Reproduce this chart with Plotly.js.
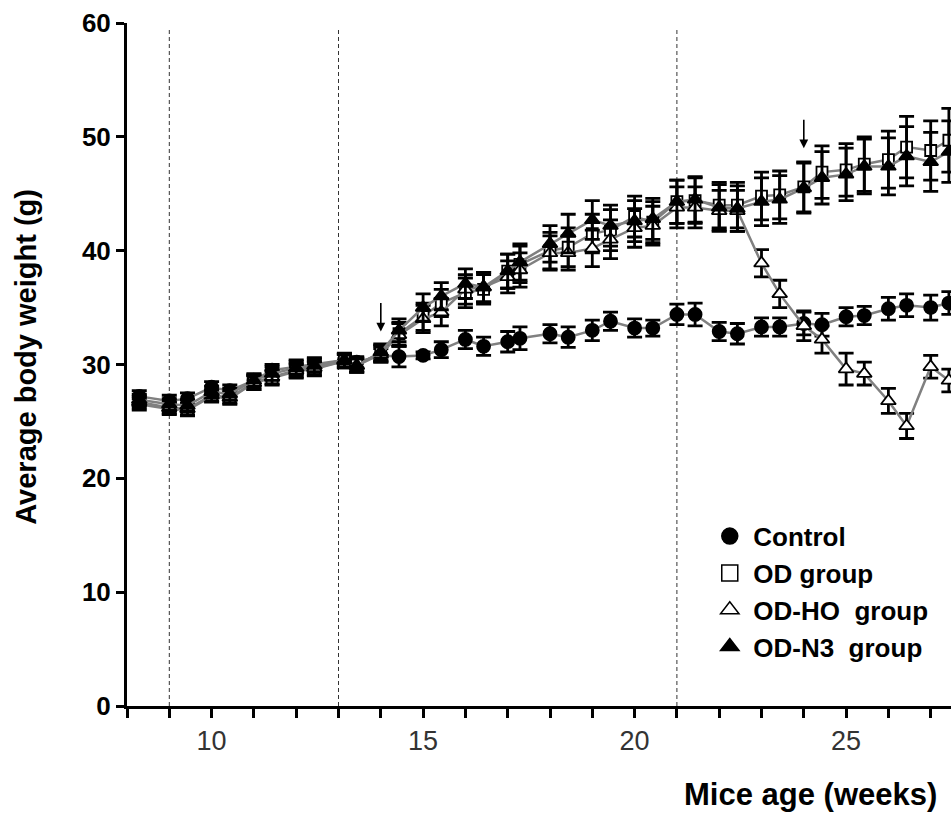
<!DOCTYPE html>
<html>
<head>
<meta charset="utf-8">
<script src="https://cdn.plot.ly/plotly-3.0.1.min.js"></script>
<style>html,body{margin:0;padding:0;background:#fff;}#chart{width:951px;height:814px;}</style>
</head>
<body>
<div id="chart"></div>
<script>
// ---- data ----
var weeks = [8.29, 9, 9.43, 10, 10.43, 11, 11.43, 12, 12.43, 13.14, 13.43, 14, 14.43, 15, 15.43, 16, 16.43, 17, 17.29, 18, 18.43, 19, 19.43, 20, 20.43, 21, 21.43, 22, 22.43, 23, 23.43, 24, 24.43, 25, 25.43, 26, 26.43, 27, 27.43];

var control = [27.2, 26.8, 27.0, 28.0, 27.7, 28.6, 29.5, 29.8, 30.0, 30.4, 30.2, 30.8, 30.7, 30.8, 31.3, 32.2, 31.6, 32.0, 32.3, 32.7, 32.4, 33.0, 33.8, 33.2, 33.2, 34.4, 34.4, 32.9, 32.7, 33.3, 33.3, 33.6, 33.5, 34.2, 34.3, 34.9, 35.2, 35.0, 35.4];
var controlErr = [0.5, 0.5, 0.5, 0.5, 0.5, 0.5, 0.5, 0.6, 0.6, 0.5, 0.5, 0.6, 0.9, 0.3, 0.7, 0.8, 0.8, 0.9, 1.0, 0.8, 0.9, 0.9, 0.8, 0.8, 0.7, 0.9, 1.0, 0.8, 0.9, 0.8, 0.8, 1.0, 1.0, 0.8, 0.8, 1.0, 1.0, 1.1, 1.0];

var odGroup = [26.5, 26.1, 26.0, 27.2, 27.0, 28.4, 28.8, 29.4, 29.6, 30.3, 30.0, 31.0, 32.7, 34.2, 35.4, 36.3, 36.6, 38.2, 38.8, 40.0, 40.3, 41.5, 41.8, 43.0, 42.5, 44.3, 44.4, 44.0, 44.0, 44.8, 44.9, 45.6, 46.9, 47.1, 47.6, 48.0, 49.1, 48.8, 49.7];
var odErr = [0.5, 0.5, 0.5, 0.5, 0.5, 0.6, 0.6, 0.6, 0.6, 0.6, 0.6, 0.7, 1.0, 1.2, 1.2, 1.3, 1.3, 1.5, 1.6, 1.6, 1.7, 1.7, 1.8, 1.8, 1.8, 1.9, 2.0, 2.0, 2.0, 2.1, 2.1, 2.2, 2.3, 2.3, 2.4, 2.5, 2.7, 2.6, 2.8];

var odHoGroup = [26.7, 26.2, 26.1, 27.3, 27.1, 28.4, 28.9, 29.5, 29.7, 30.3, 29.9, 30.9, 32.6, 34.0, 34.6, 36.6, 36.8, 37.7, 38.3, 39.8, 39.8, 40.2, 41.0, 42.0, 42.2, 43.8, 43.8, 43.5, 43.5, 38.9, 36.2, 33.4, 32.2, 29.6, 29.2, 26.8, 24.6, 29.8, 28.6];
var odHoErr = [0.5, 0.5, 0.5, 0.5, 0.5, 0.6, 0.6, 0.6, 0.6, 0.6, 0.6, 0.7, 1.0, 1.2, 1.2, 1.3, 1.3, 1.4, 1.5, 1.5, 1.5, 1.6, 1.7, 1.7, 1.7, 1.8, 1.8, 1.8, 1.8, 1.2, 1.2, 1.3, 1.2, 1.4, 1.0, 1.1, 1.1, 1.0, 1.0];

var odN3Group = [26.9, 26.5, 26.4, 27.6, 27.4, 28.6, 29.2, 29.7, 29.9, 30.4, 29.9, 31.1, 33.0, 35.0, 36.0, 37.1, 36.8, 38.2, 39.0, 40.6, 41.5, 42.7, 42.2, 42.6, 42.8, 44.3, 44.5, 43.8, 43.7, 44.3, 44.5, 45.5, 46.4, 46.7, 47.4, 47.4, 48.3, 47.8, 48.7];
var odN3Err = [0.5, 0.5, 0.5, 0.5, 0.5, 0.6, 0.6, 0.6, 0.6, 0.6, 0.6, 0.7, 1.0, 1.2, 1.2, 1.3, 1.3, 1.5, 1.6, 1.6, 1.7, 1.7, 1.8, 1.8, 1.8, 1.9, 2.0, 2.0, 2.0, 2.1, 2.1, 2.2, 2.3, 2.3, 2.4, 2.5, 2.6, 2.6, 2.7];

var seriesNames = ['Control', 'OD group', 'OD-HO  group', 'OD-N3  group'];
var dashedWeeks = [9, 13, 21];
var arrowPoints = [[14, 32.9], [24, 49.0]];
var xTickVals = [8, 9, 10, 11, 12, 13, 14, 15, 16, 17, 18, 19, 20, 21, 22, 23, 24, 25, 26, 27];
var xTickText = ['', '', '10', '', '', '', '', '15', '', '', '', '', '20', '', '', '', '', '25', '', ''];
var yTickVals = [0, 10, 20, 30, 40, 50, 60];

// ---- styling ----
var FONT = 'Liberation Sans, Arial, Helvetica, sans-serif';
var styles = [
  {symbol: 'circle', color: '#000000', size: 13},
  {symbol: 'square', color: '#ffffff', size: 11},
  {symbol: 'triangle-up', color: '#ffffff', size: 13},
  {symbol: 'triangle-up', color: '#000000', size: 13}
];
var ys = [control, odGroup, odHoGroup, odN3Group];
var errs = [controlErr, odErr, odHoErr, odN3Err];

var traces = [];
for (var i = 0; i < ys.length; i++) {
  traces.push({
    x: weeks, y: ys[i], type: 'scatter', mode: 'lines+markers',
    name: seriesNames[i], showlegend: false, cliponaxis: false,
    line: {color: '#808080', width: 2.5},
    marker: {symbol: styles[i].symbol, size: styles[i].size, color: styles[i].color,
             line: {color: '#000000', width: 1.8}},
    error_y: {type: 'data', array: errs[i], visible: true, color: '#000000', thickness: 2.8, width: 7.5}
  });
}
// legend entries (markers only, as in the reference)
for (var j = 0; j < ys.length; j++) {
  traces.push({
    x: [null], y: [null], type: 'scatter', mode: 'markers', name: seriesNames[j],
    legendgroup: 'g' + j, showlegend: true,
    marker: {symbol: styles[j].symbol, size: 16, color: styles[j].color,
             line: {color: '#000000', width: 1.5}}
  });
}

var shapes = dashedWeeks.map(function (w) {
  return {type: 'line', xref: 'x', yref: 'y', x0: w, x1: w, y0: 0, y1: 59.5,
          line: {color: '#333333', width: 1, dash: '4px,3px'}, layer: 'below'};
});

var annotations = arrowPoints.map(function (p) {
  return {x: p[0], y: p[1], xref: 'x', yref: 'y', text: '', showarrow: true,
          ax: 0, ay: -30, arrowhead: 2, arrowsize: 1.1, arrowwidth: 1.6, arrowcolor: '#000000'};
});
annotations.push({
  text: '<b>Mice age (weeks)</b>', xref: 'paper', yref: 'paper', x: 0.83, y: -0.13,
  xanchor: 'center', yanchor: 'middle', showarrow: false,
  font: {family: FONT, size: 31, color: '#000000'}
});
annotations.push({
  text: '<b>Average body weight (g)</b>', xref: 'paper', yref: 'paper', x: -0.122, y: 0.512,
  xanchor: 'center', yanchor: 'middle', textangle: -90, showarrow: false,
  font: {family: FONT, size: 29, color: '#000000'}
});

var layout = {
  width: 951, height: 814,
  margin: {l: 127, r: 0, t: 23, b: 108},
  paper_bgcolor: '#ffffff', plot_bgcolor: '#ffffff',
  font: {family: FONT, color: '#000000'},
  showlegend: true,
  legend: {x: 0.703, y: 0.283, xanchor: 'left', yanchor: 'top', bgcolor: 'rgba(0,0,0,0)',
           font: {family: FONT, size: 26, color: '#000000', weight: 'bold'},
           tracegroupgap: 0, itemwidth: 37},
  xaxis: {range: [8, 27.48], showgrid: false, zeroline: false, showline: true,
          linecolor: '#000000', linewidth: 3, ticks: 'outside', ticklen: 9, tickwidth: 3,
          tickcolor: '#000000', tickmode: 'array', tickvals: xTickVals, ticktext: xTickText,
          tickfont: {family: FONT, size: 27, color: '#333333'}, fixedrange: true},
  yaxis: {range: [0, 60], showgrid: false, zeroline: false, showline: true,
          linecolor: '#000000', linewidth: 3, ticks: 'outside', ticklen: 8, tickwidth: 3,
          tickcolor: '#000000', tickmode: 'array', tickvals: yTickVals,
          tickfont: {family: FONT, size: 26, color: '#000000', weight: 'bold'}, fixedrange: true},
  shapes: shapes,
  annotations: annotations
};

Plotly.newPlot('chart', traces, layout, {displayModeBar: false, staticPlot: true});
</script>
</body>
</html>
